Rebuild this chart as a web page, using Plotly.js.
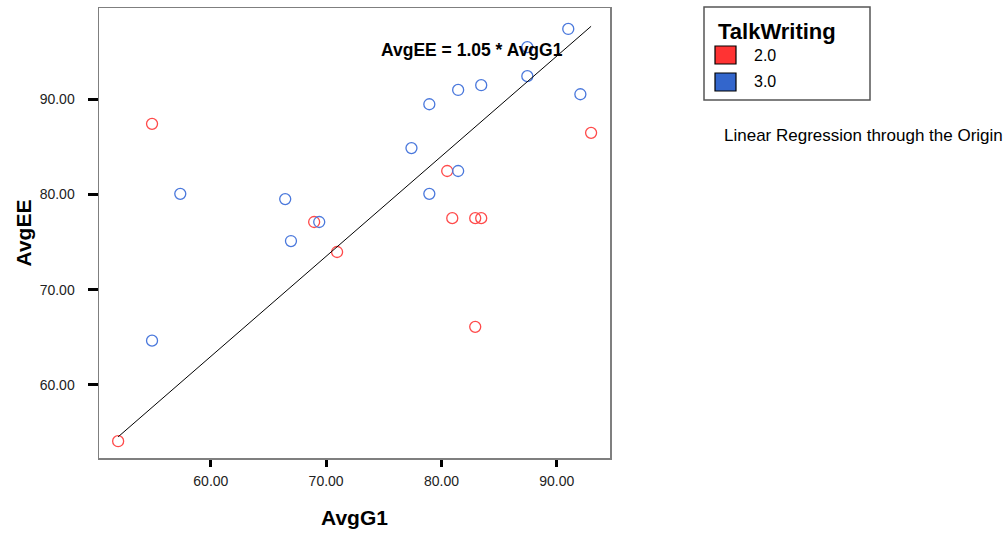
<!DOCTYPE html>
<html>
<head>
<meta charset="utf-8">
<script src="https://cdn.plot.ly/plotly-3.0.1.min.js"></script>
<style>
html,body{margin:0;padding:0;background:#fff;}
#chart{width:1008px;height:534px;}
</style>
</head>
<body>
<div id="chart"></div>
<script>
// ---- data ----
var groupNames = ["2.0", "3.0"];
var groupColors = ["#ff4a4a", "#4a78dc"];
var legendColors = ["#ff3333", "#3366cc"];

var g2_AvgG1 = [51.96, 54.9, 68.96, 70.95, 80.5, 80.94, 82.93, 82.93, 83.45, 92.98];
var g2_AvgEE = [54.1, 87.4, 77.1, 73.95, 82.45, 77.5, 66.1, 77.5, 77.5, 86.45];

var g3_AvgG1 = [54.9, 57.35, 66.45, 66.95, 69.4, 77.4, 78.95, 78.95, 81.45, 81.45, 83.45, 87.45, 87.45, 91.0, 92.05];
var g3_AvgEE = [64.65, 80.05, 79.5, 75.1, 77.1, 84.85, 89.45, 80.05, 90.95, 82.45, 91.45, 95.45, 92.4, 97.35, 90.5];

var slope = 1.05;
var eqText = "AvgEE = 1.05 * AvgG1";
var xTitle = "AvgG1";
var yTitle = "AvgEE";
var legendTitle = "TalkWriting";
var noteText = "Linear Regression through the Origin";
var xTicks = [60, 70, 80, 90];
var yTicks = [60, 70, 80, 90];

// ---- layout helpers ----
var W = 1008, H = 534;
var L = 99, R = 610, T = 8, B = 458;
function px(x){ return (x - L) / (R - L); }
function py(y){ return (B - y) / (B - T); }
var FONT = "Liberation Sans, Arial, sans-serif";

var allX = g2_AvgG1.concat(g3_AvgG1);
var xmin = Math.min.apply(null, allX), xmax = Math.max.apply(null, allX);

var traces = [
  {x: g2_AvgG1, y: g2_AvgEE, type: "scatter", mode: "markers", name: groupNames[0],
   marker: {symbol: "circle-open", size: 11, color: groupColors[0], line: {width: 1.3, color: groupColors[0]}}},
  {x: g3_AvgG1, y: g3_AvgEE, type: "scatter", mode: "markers", name: groupNames[1],
   marker: {symbol: "circle-open", size: 11, color: groupColors[1], line: {width: 1.3, color: groupColors[1]}}},
  {x: [xmin, xmax], y: [slope * xmin, slope * xmax], type: "scatter", mode: "lines",
   line: {color: "#000", width: 1}, name: "fit"}
];

var shapes = [
  {type: "rect", xref: "paper", yref: "paper", x0: px(704), x1: px(870), y0: py(7), y1: py(100),
   line: {color: "#555", width: 1.5}, fillcolor: "rgba(0,0,0,0)"}
];
var annotations = [
  {xref: "paper", yref: "paper", x: px(471.5), y: py(50), text: "<b>" + eqText + "</b>", showarrow: false,
   font: {family: FONT, size: 17.5, color: "#000"}, xanchor: "center", yanchor: "middle"},
  {xref: "paper", yref: "paper", x: px(716), y: py(31), text: "<b>" + legendTitle + "</b>", showarrow: false,
   font: {family: FONT, size: 22, color: "#000"}, xanchor: "left", yanchor: "middle"},
  {xref: "paper", yref: "paper", x: px(722), y: py(135), text: noteText, showarrow: false,
   font: {family: FONT, size: 17, color: "#000"}, xanchor: "left", yanchor: "middle"}
];
for (var i = 0; i < groupNames.length; i++) {
  var cy = 55 + i * 27;
  shapes.push({type: "rect", xref: "paper", yref: "paper", x0: px(715), x1: px(736), y0: py(cy - 9), y1: py(cy + 9),
    line: {color: "#000", width: 1.2}, fillcolor: legendColors[i]});
  annotations.push({xref: "paper", yref: "paper", x: px(752), y: py(cy), text: groupNames[i], showarrow: false,
    font: {family: FONT, size: 16, color: "#000"}, xanchor: "left", yanchor: "middle"});
}

var layout = {
  width: W, height: H,
  margin: {l: L, r: W - R, t: T, b: H - B, pad: 0},
  paper_bgcolor: "#fff", plot_bgcolor: "#fff",
  showlegend: false,
  font: {family: FONT, color: "#000"},
  xaxis: {
    range: [50.3, 94.62], tickvals: xTicks, tickformat: ".2f",
    showgrid: false, zeroline: false,
    showline: true, mirror: true, linecolor: "#7f7f7f", linewidth: 1.5,
    ticks: "outside", ticklen: 7, tickwidth: 3, tickcolor: "#000",
    ticklabelstandoff: 3,
    tickfont: {family: FONT, size: 14, color: "#222"},
    title: {text: "<b>" + xTitle + "</b>", font: {family: FONT, size: 21, color: "#000"}, standoff: 22}
  },
  yaxis: {
    range: [52.34, 99.55], tickvals: yTicks, tickformat: ".2f",
    showgrid: false, zeroline: false,
    showline: true, mirror: true, linecolor: "#7f7f7f", linewidth: 1.5,
    ticks: "outside", ticklen: 10, tickwidth: 3, tickcolor: "#000",
    ticklabelstandoff: 10,
    tickfont: {family: FONT, size: 14, color: "#222"},
    title: {text: "<b>" + yTitle + "</b>", font: {family: FONT, size: 21, color: "#000"}, standoff: 2}
  },
  shapes: shapes,
  annotations: annotations
};

Plotly.newPlot("chart", traces, layout, {staticPlot: true, displayModeBar: false});
</script>
</body>
</html>
